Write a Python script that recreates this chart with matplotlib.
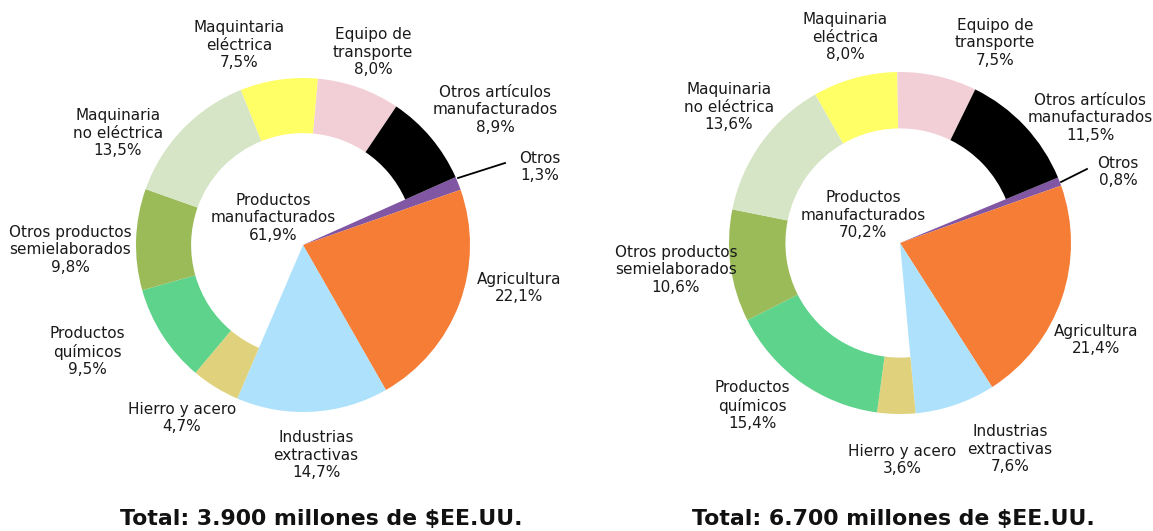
import matplotlib.pyplot as plt

# ---------------- data ----------------
categories = ["Otros", "Agricultura", "Industrias extractivas", "Hierro y acero",
              "Productos químicos", "Otros productos semielaborados",
              "Maquinaria no eléctrica", "Maquinaria eléctrica",
              "Equipo de transporte", "Otros artículos manufacturados"]
values_left = [1.3, 22.1, 14.7, 4.7, 9.5, 9.8, 13.5, 7.5, 8.0, 8.9]
values_right = [0.8, 21.4, 7.6, 3.6, 15.4, 10.6, 13.6, 8.0, 7.5, 11.5]
manuf_left = 61.9
manuf_right = 70.2
total_left = "Total: 3.900 millones de $EE.UU."
total_right = "Total: 6.700 millones de $EE.UU."

colors = ["#8157A4", "#F67D36", "#AEE1FB", "#E0D27C", "#5DD38B",
          "#9BBB59", "#D5E5C5", "#FFFF66", "#F2CFD6", "#000000"]
full_wedges = 3  # Otros, Agricultura, Industrias extractivas go to the centre


def pct(v):
    return f"{v:.1f}%".replace(".", ",")


W, H = 1153, 531
fig = plt.figure(figsize=(W / 100, H / 100), dpi=100)
ax = fig.add_axes([0, 0, 1, 1])


def draw_pie(values, center, radius, start):
    wedges, _ = ax.pie(values, colors=colors, startangle=start, counterclock=False,
                       radius=radius, center=center,
                       wedgeprops=dict(width=radius * 0.33, linewidth=0))
    for w in wedges[:full_wedges]:
        w.set_width(None)
    return wedges


# pixel coordinates (y measured from the top of the image)
def P(x, y):
    return (x, H - y)


draw_pie(values_left, P(303, 245), 167, 24)
draw_pie(values_right, P(900, 243), 171, 22.5)

ax.set_xlim(0, W)
ax.set_ylim(0, H)
ax.set_aspect("equal")
ax.axis("off")

fs = 11
kw = dict(ha="center", va="center", fontsize=fs, linespacing=1.2, color="#1a1a1a")

labels_left = [
    ("Otros\n" + pct(values_left[0]), 540, 167),
    ("Agricultura\n" + pct(values_left[1]), 519, 288),
    ("Industrias\nextractivas\n" + pct(values_left[2]), 316, 455),
    ("Hierro y acero\n" + pct(values_left[3]), 182, 418),
    ("Productos\nquímicos\n" + pct(values_left[4]), 87, 352),
    ("Otros productos\nsemielaborados\n" + pct(values_left[5]), 70, 250),
    ("Maquinaria\nno eléctrica\n" + pct(values_left[6]), 118, 133),
    ("Maquintaria\neléctrica\n" + pct(values_left[7]), 239, 45),
    ("Equipo de\ntransporte\n" + pct(values_left[8]), 373, 52),
    ("Otros artículos\nmanufacturados\n" + pct(values_left[9]), 495, 110),
    ("Productos\nmanufacturados\n" + pct(manuf_left), 273, 218),
]
labels_right = [
    ("Otros\n" + pct(values_right[0]), 1118, 172),
    ("Agricultura\n" + pct(values_right[1]), 1096, 340),
    ("Industrias\nextractivas\n" + pct(values_right[2]), 1010, 449),
    ("Hierro y acero\n" + pct(values_right[3]), 902, 460),
    ("Productos\nquímicos\n" + pct(values_right[4]), 752, 406),
    ("Otros productos\nsemielaborados\n" + pct(values_right[5]), 676, 270),
    ("Maquinaria\nno eléctrica\n" + pct(values_right[6]), 729, 107),
    ("Maquinaria\neléctrica\n" + pct(values_right[7]), 845, 37),
    ("Equipo de\ntransporte\n" + pct(values_right[8]), 995, 43),
    ("Otros artículos\nmanufacturados\n" + pct(values_right[9]), 1090, 118),
    ("Productos\nmanufacturados\n" + pct(manuf_right), 863, 215),
]
for txt, x, y in labels_left + labels_right:
    ax.text(*P(x, y), txt, **kw)

# leader lines for the small "Otros" slices
ax.plot([458, 505], [H - 178, H - 163], color="black", lw=1.3)
ax.plot([1061, 1087], [H - 182, H - 169], color="black", lw=1.3)

ax.text(*P(321, 519), total_left, ha="center", va="center", fontsize=15.8,
        fontweight="bold", color="#111111")
ax.text(*P(893, 519), total_right, ha="center", va="center", fontsize=15.8,
        fontweight="bold", color="#111111")

fig.savefig("out.png", dpi=100)
